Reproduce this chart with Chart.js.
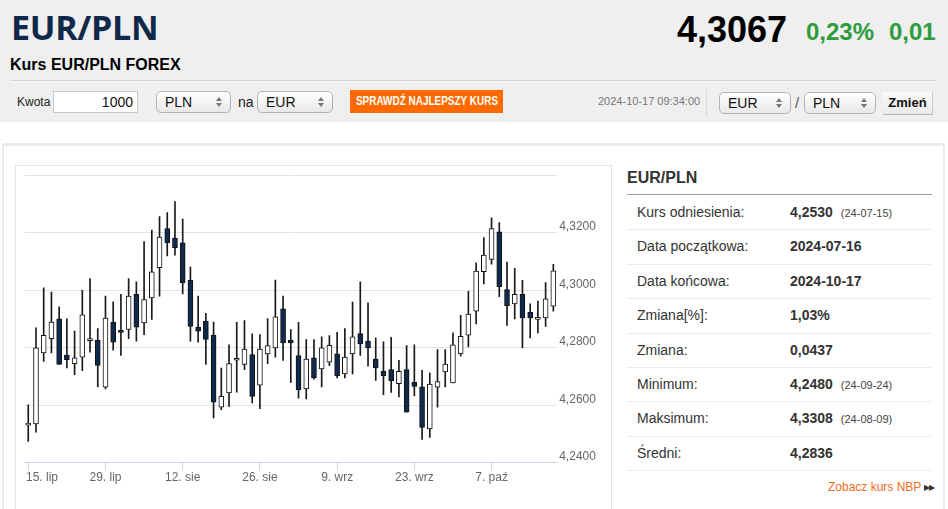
<!DOCTYPE html>
<html lang="pl">
<head>
<meta charset="utf-8">
<title>Kurs EUR/PLN FOREX</title>
<script src="https://cdn.jsdelivr.net/npm/chart.js@4.4.1/dist/chart.umd.min.js"></script>
<style>
body{margin:0;width:948px;height:509px;overflow:hidden;background:#fff;font-family:Arial,"Liberation Sans",sans-serif;color:#333;position:relative}
.a{position:absolute;white-space:nowrap}
#top{left:0;top:0;width:948px;height:122px;background:#efefef}
#pair{left:11px;top:7px;font-family:"Open Sans",sans-serif;font-weight:700;font-size:34px;line-height:40px;color:#10284a;letter-spacing:-0.3px}
#price{left:677px;top:10px;font-weight:bold;font-size:36px;line-height:40px;color:#000}
.chg{top:17px;font-weight:bold;font-size:24px;line-height:30px;color:#2e9b3c}
#sub{left:10px;top:55px;font-weight:bold;font-size:16px;line-height:20px;color:#000}
#hr{left:10px;top:80px;width:927px;border-top:1px solid #d4d4d4;border-bottom:1px solid #f7f7f7}
.lbl{font-size:13px;line-height:22px;color:#222}
.inp{box-sizing:border-box;height:22px;background:#fff;border:1px solid #c8c8c8;font-size:14px;line-height:20px;text-align:right;padding-right:4px;color:#111}
.sel{box-sizing:border-box;height:22px;border:1px solid #b3b3b3;border-radius:5px;background:linear-gradient(#ffffff,#e8e8e8);font-size:14px;line-height:20px;padding-left:8px;color:#111}
.sel:after{content:"";position:absolute;right:8px;top:5px;border:3px solid transparent;border-bottom:4px solid #777;border-top:none}
.sel:before{content:"";position:absolute;right:8px;top:11px;border:3px solid transparent;border-top:4px solid #777;border-bottom:none}
#btn{left:350px;top:90px;width:153px;height:23px;background:#ff6a00;color:#fff;font-weight:bold;font-size:12px;line-height:23px;overflow:hidden}
#btn span{position:absolute;left:50%;top:0;transform:translateX(-50%) scaleX(0.83)}
#date{left:598px;top:93px;font-size:11px;line-height:16px;color:#777}
#vsep{left:706px;top:89px;width:1px;height:27px;background:#d8d8d8}
#zm{left:883px;top:92px;width:50px;height:23px;box-sizing:border-box;background:linear-gradient(#fbfbfb,#e9e9e9);border-right:1px solid #c9c9c9;border-bottom:1px solid #b5b5b5;font-weight:bold;font-size:13px;line-height:22px;text-align:center;color:#111}
#panel{left:2px;top:143px;width:939px;height:400px;border:2px solid #ebebeb;border-top-width:3px}
#cbox{left:15px;top:165px;width:595px;height:360px;border:1px solid #e3e3e3}
#chartWrap{left:16px;top:166px;width:594px;height:330px}
#ttl{left:627px;top:169px;font-weight:bold;font-size:16px;line-height:18px;color:#333}
#tline{left:627px;top:194px;width:305px;border-top:1px solid #9a9a9a}
#rows{left:627px;top:196px;width:305px}
.row{position:relative;height:34.4px;box-sizing:border-box;border-bottom:1px solid #ececec;font-size:14px;line-height:33px}
.row .k{position:absolute;left:10px;color:#333}
.row .v{position:absolute;left:163px;font-weight:bold;color:#333}
.row .d{font-weight:normal;font-size:11px;color:#444;margin-left:8px}
#nbp{left:828px;top:479px;font-size:12px;line-height:16px;color:#f26c22}
#nbp span{color:#333;font-size:8px;margin-left:3px;letter-spacing:-1px;vertical-align:1px}
</style>
</head>
<body>
<div id="top" class="a"></div>
<div id="pair" class="a">EUR/PLN</div>
<div id="price" class="a">4,3067</div>
<div class="a chg" style="left:806px">0,23%</div>
<div class="a chg" style="left:889px">0,01</div>
<div id="sub" class="a">Kurs EUR/PLN FOREX</div>
<div id="hr" class="a"></div>

<div class="a lbl" style="left:17px;top:91px;font-size:12px">Kwota</div>
<div class="a inp" style="left:53px;top:91px;width:85px">1000</div>
<div class="a sel" style="left:156px;top:91px;width:75px">PLN</div>
<div class="a lbl" style="left:238px;top:91px;font-size:14px">na</div>
<div class="a sel" style="left:257px;top:91px;width:76px">EUR</div>
<div id="btn" class="a"><span>SPRAWDŹ NAJLEPSZY KURS</span></div>
<div id="date" class="a">2024-10-17 09:34:00</div>
<div id="vsep" class="a"></div>
<div class="a sel" style="left:719px;top:92px;width:72px">EUR</div>
<div class="a lbl" style="left:795px;top:92px;font-size:15px;color:#555">/</div>
<div class="a sel" style="left:804px;top:92px;width:72px">PLN</div>
<div id="zm" class="a">Zmień</div>

<div id="panel" class="a"></div>
<div id="cbox" class="a"></div>
<div id="chartWrap" class="a"><canvas id="fxChart"></canvas></div>

<div id="ttl" class="a">EUR/PLN</div>
<div id="tline" class="a"></div>
<div id="rows" class="a">
  <div class="row"><span class="k">Kurs odniesienia:</span><span class="v">4,2530<span class="d">(24-07-15)</span></span></div>
  <div class="row"><span class="k">Data początkowa:</span><span class="v">2024-07-16</span></div>
  <div class="row"><span class="k">Data końcowa:</span><span class="v">2024-10-17</span></div>
  <div class="row"><span class="k">Zmiana[%]:</span><span class="v">1,03%</span></div>
  <div class="row"><span class="k">Zmiana:</span><span class="v">0,0437</span></div>
  <div class="row"><span class="k">Minimum:</span><span class="v">4,2480<span class="d">(24-09-24)</span></span></div>
  <div class="row"><span class="k">Maksimum:</span><span class="v">4,3308<span class="d">(24-08-09)</span></span></div>
  <div class="row"><span class="k">Średni:</span><span class="v">4,2836</span></div>
</div>
<div id="nbp" class="a">Zobacz kurs NBP<span>&#9654;&#9654;</span></div>

<script>
// trading days 2024-07-15 .. 2024-10-17 (MM-DD)
var days = [
  '07-15','07-16','07-17','07-18','07-19','07-22','07-23','07-24','07-25','07-26',
  '07-29','07-30','07-31','08-01','08-02','08-05','08-06','08-07','08-08','08-09',
  '08-12','08-13','08-14','08-15','08-16','08-19','08-20','08-21','08-22','08-23',
  '08-26','08-27','08-28','08-29','08-30','09-02','09-03','09-04','09-05','09-06',
  '09-09','09-10','09-11','09-12','09-13','09-16','09-17','09-18','09-19','09-20',
  '09-23','09-24','09-25','09-26','09-27','09-30','10-01','10-02','10-03','10-04',
  '10-07','10-08','10-09','10-10','10-11','10-14','10-15','10-16','10-17'
];

var openRate = [
  4.2530,4.2534,4.2781,4.2831,4.2900,4.2774,4.2744,4.2767,4.2824,4.2826,
  4.2662,4.2889,4.2859,4.2863,4.2985,4.2886,4.2973,4.3078,4.3214,4.3181,
  4.3165,4.3034,4.2871,4.2892,4.2843,4.2593,4.2642,4.2756,4.2741,4.2776,
  4.2669,4.2778,4.2799,4.2935,4.2826,4.2772,4.2656,4.2764,4.2726,4.2749,
  4.2778,4.2708,4.2778,4.2849,4.2822,4.2760,4.2717,4.2723,4.2674,4.2723,
  4.2679,4.2663,4.2517,4.2662,4.2715,4.2677,4.2778,4.2843,4.2927,4.3064,
  4.3107,4.3203,4.3002,4.2952,4.2985,4.2923,4.2898,4.2903,4.2944
];
var highRate = [
  4.2601,4.2869,4.3008,4.2993,4.2942,4.2900,4.2857,4.2999,4.3040,4.2866,
  4.2979,4.2959,4.2985,4.3040,4.3029,4.3169,4.3209,4.3256,4.3270,4.3308,
  4.3247,4.3080,4.2979,4.2919,4.2889,4.2729,4.2810,4.2888,4.2894,4.2848,
  4.2845,4.2901,4.3035,4.2979,4.2863,4.2888,4.2828,4.2828,4.2837,4.2842,
  4.2853,4.2866,4.2958,4.3029,4.2956,4.2834,4.2820,4.2836,4.2756,4.2807,
  4.2810,4.2721,4.2712,4.2793,4.2793,4.2851,4.2912,4.2996,4.3095,4.3183,
  4.3252,4.3235,4.3098,4.3076,4.3034,4.2952,4.2962,4.3026,4.3090
];
var lowRate = [
  4.2473,4.2506,4.2752,4.2781,4.2741,4.2729,4.2706,4.2720,4.2784,4.2663,
  4.2656,4.2791,4.2773,4.2831,4.2822,4.2845,4.2898,4.2979,4.3119,4.3122,
  4.2987,4.2822,4.2819,4.2741,4.2555,4.2584,4.2595,4.2645,4.2723,4.2607,
  4.2587,4.2744,4.2767,4.2755,4.2679,4.2624,4.2621,4.2690,4.2663,4.2737,
  4.2694,4.2694,4.2708,4.2773,4.2735,4.2686,4.2636,4.2644,4.2628,4.2575,
  4.2632,4.2480,4.2487,4.2593,4.2663,4.2677,4.2770,4.2802,4.2882,4.3022,
  4.3090,4.2977,4.2877,4.2900,4.2799,4.2834,4.2851,4.2874,4.2927
];
var closeRate = [
  4.2530,4.2799,4.2843,4.2889,4.2741,4.2758,4.2764,4.2914,4.2824,4.2738,
  4.2903,4.2819,4.2853,4.2979,4.2871,4.2967,4.3064,4.3185,4.3165,4.3148,
  4.3026,4.2874,4.2857,4.2828,4.2610,4.2630,4.2744,4.2756,4.2795,4.2630,
  4.2795,4.2807,4.2907,4.2816,4.2816,4.2653,4.2760,4.2694,4.2799,4.2808,
  4.2702,4.2767,4.2837,4.2813,4.2799,4.2729,4.2702,4.2685,4.2717,4.2575,
  4.2665,4.2522,4.2673,4.2682,4.2743,4.2810,4.2839,4.2917,4.3066,4.3122,
  4.3214,4.3012,4.2946,4.2985,4.2903,4.2903,4.2898,4.2970,4.3067
];

var tickDays = ['07-15','07-29','08-12','08-26','09-09','09-23','10-07'];
var tickLabels = ['15. lip','29. lip','12. sie','26. sie','9. wrz','23. wrz','7. paź'];
var yTicks = [4.24, 4.26, 4.28, 4.30, 4.32, 4.34];

var upColor = '#ffffff';
var downColor = '#0f2a4c';

var bodyData = openRate.map(function(o, i) { return [o, closeRate[i]]; });
var wickData = lowRate.map(function(l, i) { return [l, highRate[i]]; });
var bodyColors = openRate.map(function(o, i) { return closeRate[i] >= o ? upColor : downColor; });

// x labels: centred on the tick, first one pushed right like the original
var dateLabels = {
  id: 'dateLabels',
  afterDraw: function(chart) {
    var ctx = chart.ctx, xs = chart.scales.x;
    ctx.save();
    ctx.font = '12px Arial, "Liberation Sans", sans-serif';
    ctx.fillStyle = '#666';
    ctx.textBaseline = 'middle';
    ctx.textAlign = 'left';
    tickDays.forEach(function(d, k) {
      var px = xs.getPixelForValue(days.indexOf(d));
      var w = ctx.measureText(tickLabels[k]).width;
      var left = Math.max(px - w / 2, 10);
      ctx.fillText(tickLabels[k], left, xs.top + 15);
    });
    ctx.restore();
  }
};

var chart = new Chart(document.getElementById('fxChart'), {
  type: 'bar',
  data: {
    labels: days,
    datasets: [{
      label: 'body',
      data: bodyData,
      backgroundColor: bodyColors,
      borderColor: '#111',
      borderWidth: 1,
      borderSkipped: false,
      barThickness: 5,
      minBarLength: 2,
      grouped: false,
      order: 0
    }, {
      label: 'wick',
      data: wickData,
      backgroundColor: '#1a1a1a',
      borderWidth: 0,
      barThickness: 1,
      grouped: false,
      order: 1
    }]
  },
  options: {
    responsive: true,
    maintainAspectRatio: false,
    animation: false,
    events: [],
    layout: { padding: { left: 8.4, top: 8.5, right: 0, bottom: 0 } },
    plugins: { legend: { display: false }, tooltip: { enabled: false } },
    scales: {
      x: {
        type: 'category',
        offset: true,
        border: { color: '#ccd6eb', width: 1 },
        grid: {
          offset: false,
          drawOnChartArea: false,
          drawTicks: true,
          tickLength: 8,
          color: function(c) {
            return tickDays.indexOf(days[c.index]) >= 0 ? '#ccd6eb' : 'rgba(0,0,0,0)';
          }
        },
        ticks: { display: false, autoSkip: false },
        afterFit: function(s) { s.height = 33.5; }
      },
      y: {
        position: 'right',
        min: yTicks[0],
        max: yTicks[yTicks.length - 1],
        border: { display: false },
        grid: { color: '#e4e4e4', drawTicks: false },
        afterBuildTicks: function(s) {
          s.ticks = yTicks.map(function(v) { return { value: v }; });
        },
        ticks: {
          padding: 2,
          labelOffset: -5.5,
          color: '#666',
          font: { family: 'Arial, "Liberation Sans", sans-serif', size: 12 },
          callback: function(v) {
            return v > 4.335 ? '' : Number(v).toFixed(4).replace('.', ',');
          }
        },
        afterFit: function(s) { s.width = 52.8; }
      }
    }
  },
  plugins: [dateLabels]
});
</script>
</body>
</html>
